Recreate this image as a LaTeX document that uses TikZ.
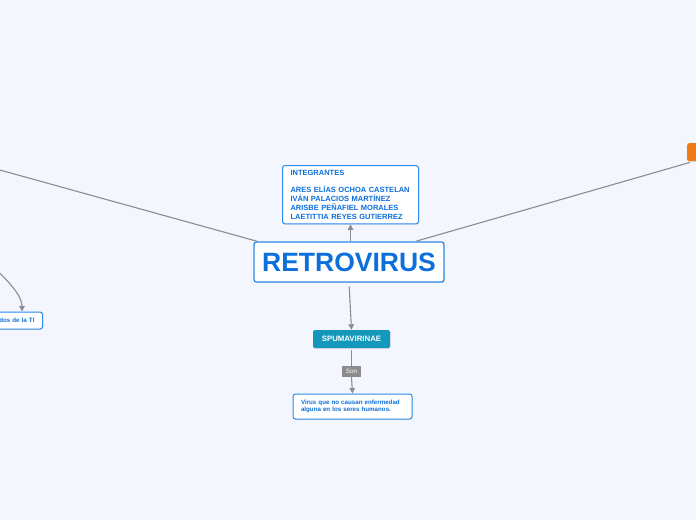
\documentclass[tikz,border=0pt]{standalone}
\usepackage{fontspec}
\setmainfont{Liberation Sans}
\usetikzlibrary{arrows.meta,shadows}
\definecolor{bg}{HTML}{F3F6FD}
\definecolor{linegray}{HTML}{8A8B93}
\definecolor{bblue}{HTML}{2C8AEA}
\definecolor{tblue}{HTML}{0C6FDC}
\definecolor{teal}{HTML}{1397BA}
\definecolor{orng}{HTML}{EE7A12}
\definecolor{songray}{HTML}{8C8C8C}
\tikzset{
  conn/.style={draw=linegray, line width=1.1pt},
  arr/.style={conn, -{Triangle[length=5.5pt,width=5.5pt]}},
  shad/.style={drop shadow={opacity=0.18, shadow xshift=0.6pt, shadow yshift=-0.9pt}},
  wbox/.style={draw=bblue, fill=white, line width=1pt, rounded corners=2.5pt, shad, text=tblue, font=\bfseries},
  tbox/.style={fill=teal, rounded corners=1.5pt, shad, text=white, font=\bfseries\fontsize{7.8}{9}\selectfont, inner sep=0pt},
}
\begin{document}
\begin{tikzpicture}[x=1pt,y=-1pt]
\fill[bg] (0,0) rectangle (696,520);
\clip (0,0) rectangle (696,520);
\useasboundingbox (0,0) rectangle (696,520);

% central node
\node[wbox, line width=1.3pt, minimum width=190pt, minimum height=40pt, inner sep=0pt,
      font=\bfseries\fontsize{26.5}{30}\selectfont] (retro) at (349,262) {RETROVIRUS};

% integrantes
\node[wbox, anchor=north west, text width=120pt, inner xsep=8pt, inner ysep=4.5pt, align=left,
      font=\bfseries\fontsize{7.5}{8.8}\selectfont] (integ) at (282,165)
  {INTEGRANTES\\[8.8pt]ARES ELÍAS OCHOA CASTELAN\\IVÁN PALACIOS MARTÍNEZ\\ARISBE PEÑAFIEL MORALES\\LAETITTIA REYES GUTIERREZ};

% spumavirinae
\node[tbox, minimum width=77pt, minimum height=18pt] (spuma) at (351.5,339) {SPUMAVIRINAE};

% Son label
\node[fill=songray, text=white, font=\fontsize{6.3}{7}\selectfont, minimum width=19pt, minimum height=11pt, inner sep=0pt] (son) at (351.5,371.5) {Son};

% bottom box
\node[wbox, minimum width=119pt, minimum height=25pt, text width=103pt, inner xsep=8pt, inner ysep=0pt, align=left,
      font=\bfseries\fontsize{6.2}{7}\selectfont] (virus) at (352.5,406.5)
  {Virus que no causan enfermedad\\alguna en los seres humanos.};

% left partial node
\node[wbox, anchor=east, minimum height=17pt, text width=45pt, inner xsep=8pt, inner ysep=0pt, align=right,
      font=\bfseries\fontsize{6.2}{7}\selectfont] (leftn) at (43,320.5) {dos de la TI};

% right partial orange node
\node[fill=orng, rounded corners=2pt, shad, anchor=north west, minimum width=40pt, minimum height=18pt, inner sep=0pt] (orange) at (687,143) {};

% off-canvas coordinates
\coordinate (leftend) at (-20,164.5);
\coordinate (curvestart) at (-14,260);

% connectors
\draw[arr] (integ.south |- retro.north) -- (integ.south);
\draw[arr, shorten <=4pt] (retro.south) -- (spuma.north);
\draw[conn] ([xshift=4pt]retro.north west) -- (leftend);
\draw[conn] ([xshift=-29pt]retro.north east) -- ([xshift=3pt,yshift=-1pt]orange.south west);
\draw[arr] (curvestart) .. controls (10,282) and (22,296) .. ([xshift=-21pt]leftn.north east);
\draw[conn, shorten <=2pt] (spuma.south) -- (son.north);
\draw[arr] (son.south) -- (virus.north);
\end{tikzpicture}
\end{document}
